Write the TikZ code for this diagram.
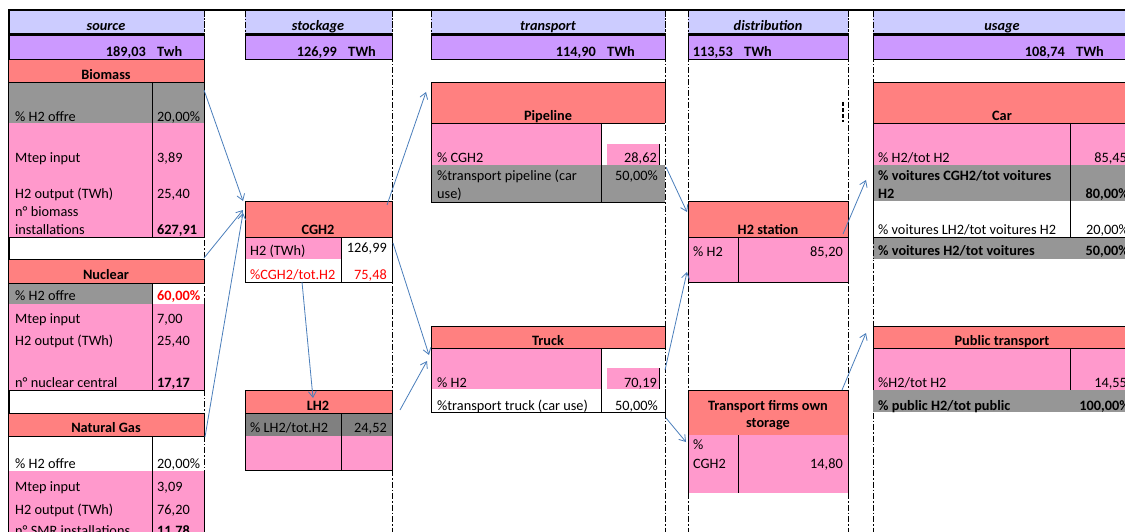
\documentclass[tikz,border=0pt]{standalone}
\usepackage{fontspec}
\setmainfont{Carlito}
\usetikzlibrary{arrows.meta}
\definecolor{lav}{HTML}{CCCCFF}
\definecolor{purp}{HTML}{CC99FF}
\definecolor{salmon}{HTML}{FF8080}
\definecolor{pinkc}{HTML}{FF99CC}
\definecolor{grayc}{HTML}{969696}
\definecolor{dgrayc}{HTML}{808080}
\definecolor{redc}{HTML}{FF0000}
\definecolor{arrowblue}{HTML}{4A7EBB}
\begin{document}
\begin{tikzpicture}[x=1pt,y=-1pt,
  font=\fontsize{14.3}{17}\selectfont,
  tw/.style={inner sep=0pt, anchor=base west},
  te/.style={inner sep=0pt, anchor=base east},
  tc/.style={inner sep=0pt, anchor=base},
  bf/.style={font=\fontsize{14.3}{17}\selectfont\bfseries},
  hd/.style={inner sep=0pt, anchor=base, font=\fontsize{14.3}{17}\selectfont\bfseries\itshape},
  red/.style={text=redc},
  colline/.style={draw=black, line width=0.9pt, dash pattern=on 6pt off 2pt on 1.5pt off 2pt},
  cell/.style={draw=black, line width=0.8pt},
  arr/.style={draw=arrowblue, line width=0.8pt, -{Straight Barb[length=6pt,width=8pt]}}
]
\useasboundingbox (0,0) rectangle (1125,532);
\clip (0,0) rectangle (1125,532);
\fill[white] (0,0) rectangle (1125,532);

% column boundary lines
\foreach \x in {204,392,665,688,848,873} \draw[colline] (\x,10)--(\x,532);

% header rows
\foreach \a/\b in {9/204,245/392,431/665,688/848,873/1131}{
  \fill[lav] (\a,10) rectangle (\b,34);
  \filldraw[fill=purp, cell] (\a,35) rectangle (\b,59);
  \draw[line width=2pt] (\a,34)--(\b,34);
}
\draw[line width=2pt] (8,10)--(1125,10);
\draw[line width=2pt] (9,10)--(9,532);
\foreach \x in {204,245,392,431,665,688,848,873} \draw[colline] (\x,11)--(\x,33);

% ---------- source ----------
\fill[salmon] (9,59) rectangle (204,82);
\fill[grayc] (9,82) rectangle (204,123);
\fill[pinkc] (9,123) rectangle (204,237);
\draw[cell] (9,59)--(204,59) (9,82)--(204,82) (152,82)--(152,237) (204,59)--(204,237) (9,237)--(204,237);

\fill[salmon] (9,259) rectangle (204,283);
\fill[grayc] (9,283) rectangle (152,304);
\fill[white] (152,283) rectangle (204,304);
\fill[pinkc] (9,304) rectangle (204,390);
\draw[cell] (9,259)--(204,259) (9,283)--(204,283) (152,283)--(152,390) (204,259)--(204,283) (204,304)--(204,390) (9,390)--(204,390);

\fill[salmon] (9,413) rectangle (204,436);
\fill[white] (9,436) rectangle (204,471);
\fill[pinkc] (9,471) rectangle (204,532);
\draw[cell] (9,413)--(204,413) (9,436)--(204,436) (152,436)--(152,532) (204,413)--(204,436) (204,471)--(204,532);

% ---------- stockage ----------
\fill[salmon] (245,201) rectangle (392,237);
\fill[pinkc] (245,237) rectangle (341,259);
\fill[white] (341,237) rectangle (392,282);
\fill[white] (245,259) rectangle (341,282);
\draw[cell] (245,201) rectangle (392,282);
\draw[cell] (245,237)--(392,237) (341,237)--(341,282);

\fill[salmon] (245,390) rectangle (392,413);
\fill[dgrayc] (245,413) rectangle (392,436);
\fill[pinkc] (245,436) rectangle (392,470);
\draw[cell] (245,390) rectangle (392,470);
\draw[cell] (245,413)--(392,413) (341,413)--(341,470);

% ---------- transport ----------
\fill[salmon] (431,82) rectangle (665,123);
\fill[pinkc] (431,123) rectangle (601,165);
\fill[white] (601,123) rectangle (665,165);
\fill[pinkc] (607,144) rectangle (659,165);
\fill[grayc] (431,165) rectangle (665,202);
\draw[cell] (431,123)--(431,82)--(665,82)--(665,123);
\draw[cell] (431,123)--(665,123) (431,123)--(431,202)--(665,202) (601,123)--(601,202) (659,144)--(659,165);

\fill[salmon] (431,326) rectangle (665,348);
\fill[pinkc] (431,348) rectangle (601,389);
\fill[white] (601,348) rectangle (665,412);
\fill[white] (431,389) rectangle (601,412);
\fill[pinkc] (607,368) rectangle (659,389);
\draw[cell] (431,326)--(665,326)--(665,348) (431,326)--(431,412)--(665,412)--(665,389) (431,348)--(665,348) (601,348)--(601,412) (659,368)--(659,389);

% ---------- distribution ----------
\fill[salmon] (688,201) rectangle (848,237);
\fill[pinkc] (688,237) rectangle (848,282);
\draw[cell] (688,201) rectangle (848,282);
\draw[cell] (688,237)--(848,237) (738,237)--(738,282);

\fill[salmon] (688,390) rectangle (848,435);
\fill[pinkc] (688,435) rectangle (848,493);
\draw[cell] (688,493)--(688,390)--(848,390)--(848,493) (738,435)--(738,493);
\draw[line width=1.6pt, dash pattern=on 4pt off 2pt] (843,102)--(843,122);

% ---------- usage ----------
\fill[salmon] (873,82) rectangle (1131,123);
\fill[pinkc] (873,123) rectangle (1131,165);
\fill[grayc] (873,165) rectangle (1131,201);
\fill[white] (873,201) rectangle (1131,237);
\fill[grayc] (873,237) rectangle (1131,259);
\draw[cell] (873,237)--(873,82)--(1131,82) (873,123)--(1131,123) (1070,123)--(1070,237) (873,237)--(1131,237);
\draw[colline] (873,238)--(873,259);

\fill[salmon] (873,326) rectangle (1131,348);
\fill[pinkc] (873,348) rectangle (1131,390);
\fill[grayc] (873,390) rectangle (1131,412);
\draw[cell] (873,390)--(873,326)--(1131,326) (873,348)--(1131,348) (1070,348)--(1070,390);

\begin{scope}[yshift=-1.5pt]
% ---------- header texts ----------
\node[hd] (hsource) at (106,29) {source};
\node[hd] (hstock) at (318,29) {stockage};
\node[hd] (htrans) at (548,29) {transport};
\node[hd] (hdist) at (768,29) {distribution};
\node[hd] (husage) at (1002,29) {usage};

\node[te,bf] (v1) at (146,55) {189,03};
\node[tw,bf] (u1) at (157,55) {Twh};
\node[te,bf] (v2) at (337,55) {126,99};
\node[tw,bf] (u2) at (348,55) {TWh};
\node[te,bf] (v3) at (596,55) {114,90};
\node[tw,bf] (u3) at (607,55) {TWh};
\node[te,bf] (v4) at (733,55) {113,53};
\node[tw,bf] (u4) at (744,55) {TWh};
\node[te,bf] (v5) at (1065,55) {108,74};
\node[tw,bf] (u5) at (1076,55) {TWh};

% ---------- source texts ----------
\node[tc,bf] (biomass) at (106,78) {Biomass};
\node[tw] (b1) at (15,120) {\% H2 offre};
\node[tw] (b1v) at (157,120) {20,00\%};
\node[tw] (b2) at (15,161.5) {Mtep input};
\node[tw] (b2v) at (157,161.5) {3,89};
\node[tw] (b3) at (15,197) {H2 output (TWh)};
\node[tw] (b3v) at (157,197) {25,40};
\node[tw] (b4) at (15,215) {n° biomass};
\node[tw] (b5) at (15,232.5) {installations};
\node[tw,bf] (b5v) at (157,232.5) {627,91};

\node[tc,bf] (nuclear) at (106,277.5) {Nuclear};
\node[tw] (n1) at (15,299) {\% H2 offre};
\node[tw,bf,red] (n1v) at (157,299) {60,00\%};
\node[tw] (n2) at (15,322) {Mtep input};
\node[tw] (n2v) at (157,322) {7,00};
\node[tw] (n3) at (15,344) {H2 output (TWh)};
\node[tw] (n3v) at (157,344) {25,40};
\node[tw] (n4) at (15,386) {n° nuclear central};
\node[tw,bf] (n4v) at (157,386) {17,17};

\node[tc,bf] (natgas) at (106,430.5) {Natural Gas};
\node[tw] (g1) at (15,466.5) {\% H2 offre};
\node[tw] (g1v) at (157,466.5) {20,00\%};
\node[tw] (g2) at (15,489.5) {Mtep input};
\node[tw] (g2v) at (157,489.5) {3,09};
\node[tw] (g3) at (15,512.5) {H2 output (TWh)};
\node[tw] (g3v) at (157,512.5) {76,20};
\node[tw] (g4) at (15,534) {n° SMR installations};
\node[tw,bf] (g4v) at (157,534) {11,78};

% ---------- stockage texts ----------
\node[tc,bf] (cgh2) at (318,233) {CGH2};
\node[tw] (c1) at (250,254) {H2 (TWh)};
\node[te] (c1v) at (387,250.5) {126,99};
\node[tw,red] (c2) at (250,278) {\%CGH2/tot.H2};
\node[te,red] (c2v) at (387,278) {75,48};

\node[tc,bf] (lh2) at (318,408.5) {LH2};
\node[tw] (l1) at (250,431) {\% LH2/tot.H2};
\node[te] (l1v) at (387,431) {24,52};

% ---------- transport texts ----------
\node[tc,bf] (pipeline) at (548,119) {Pipeline};
\node[tw] (p1) at (437,161.5) {\% CGH2};
\node[te] (p1v) at (657,161.5) {28,62};
\node[tw] (p2) at (437,179) {\%transport pipeline (car};
\node[tw] (p2b) at (437,196.5) {use)};
\node[te] (p2v) at (658,179) {50,00\%};

\node[tc,bf] (truck) at (548,344) {Truck};
\node[tw] (k1) at (437,386) {\% H2};
\node[te] (k1v) at (657,386) {70,19};
\node[tw] (k2) at (437,409) {\%transport truck (car use)};
\node[te] (k2v) at (658,409) {50,00\%};

% ---------- distribution texts ----------
\node[tc,bf] (station) at (768,233) {H2 station};
\node[tw] (s1) at (693,255) {\% H2};
\node[te] (s1v) at (843,255) {85,20};

\node[tc,bf] (firms) at (768,409) {Transport firms own};
\node[tc,bf] (firms2) at (768,426) {storage};
\node[tw] (f1) at (693,448) {\%};
\node[tw] (f1b) at (693,467) {CGH2};
\node[te] (f1v) at (843,467) {14,80};

% ---------- usage texts ----------
\node[tc,bf] (car) at (1002,119) {Car};
\node[tw] (r1) at (878,161.5) {\% H2/tot H2};
\node[te] (r1v) at (1127,161.5) {85,45};
\node[tw,bf] (r2) at (878,179) {\% voitures CGH2/tot voitures};
\node[tw,bf] (r2b) at (878,196.5) {H2};
\node[te,bf] (r2v) at (1129,196.5) {80,00\%};
\node[tw] (r3) at (878,233) {\% voitures LH2/tot voitures H2};
\node[te] (r3v) at (1129,233) {20,00\%};
\node[tw,bf] (r4) at (878,254) {\% voitures H2/tot voitures};
\node[te,bf] (r4v) at (1129,254) {50,00\%};

\node[tc,bf] (public) at (1002,344) {Public transport};
\node[tw] (q1) at (878,386) {\%H2/tot H2};
\node[te] (q1v) at (1127,386) {14,55};
\node[tw,bf] (q2) at (878,409) {\% public H2/tot public};
\node[te,bf] (q2v) at (1130,409) {100,00\%};
\end{scope}

% ---------- connectors ----------
\coordinate (bioOut) at (204,90);
\coordinate (nucOut) at (204,258);
\coordinate (gasOut) at (205,437);
\coordinate (cghIn1) at (243,201);
\coordinate (cghIn2) at (243,210);
\coordinate (cghIn3) at (243,213);
\coordinate (cghOutA) at (387,205);
\coordinate (cghOutB) at (393,243);
\coordinate (cghOutC) at (302,282);
\coordinate (lh2In) at (313,398);
\coordinate (lh2Out) at (400,410);
\coordinate (pipeIn) at (426,92);
\coordinate (truckIn1) at (429,355);
\coordinate (truckIn2) at (427,361);
\coordinate (pipeOut) at (666,167);
\coordinate (truckOut1) at (665,370);
\coordinate (truckOut2) at (666,418);
\coordinate (stIn1) at (687,212);
\coordinate (stIn2) at (687,272);
\coordinate (firmsIn) at (686,442);
\coordinate (stOut) at (843,234);
\coordinate (firmsOut) at (842,390);
\coordinate (carIn) at (866,180);
\coordinate (pubIn) at (866,333);

\draw[arr] (bioOut) -- (cghIn1);
\draw[arr] (nucOut) -- (cghIn2);
\draw[arr] (gasOut) -- (cghIn3);
\draw[arr] (cghOutA) -- (pipeIn);
\draw[arr] (cghOutB) -- (truckIn1);
\draw[arr] (cghOutC) -- (lh2In);
\draw[arr] (lh2Out) -- (truckIn2);
\draw[arr] (pipeOut) -- (stIn1);
\draw[arr] (truckOut1) -- (stIn2);
\draw[arr] (truckOut2) -- (firmsIn);
\draw[arr] (stOut) -- (carIn);
\draw[arr] (firmsOut) -- (pubIn);
\end{tikzpicture}
\end{document}
